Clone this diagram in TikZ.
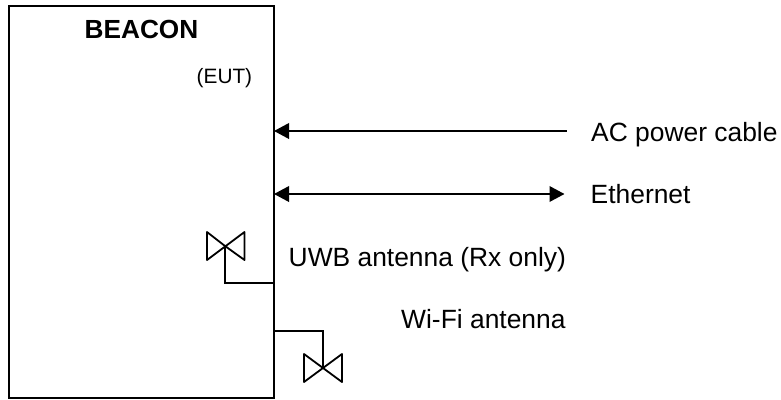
\documentclass[tikz,border=0pt]{standalone}
\usepackage{fontspec}
\setmainfont{Liberation Sans}
\usetikzlibrary{arrows.meta}
\tikzset{
  x=1pt,y=-1pt,
  devbox/.style={draw=black,line width=2pt,minimum width=265pt,minimum height=392pt,inner sep=0pt,outer sep=0pt},
  biglabel/.style={inner sep=0pt,anchor=base west,font=\fontsize{26.4}{30}\selectfont},
  smalllabel/.style={inner sep=0pt,anchor=base west,font=\fontsize{20.8}{24}\selectfont},
  cable/.style={line width=2pt,-{Triangle[length=15pt,width=15.5pt]}},
  bicable/.style={line width=2pt,{Triangle[length=15pt,width=15.5pt]}-{Triangle[length=15pt,width=15.5pt]}},
  feed/.style={line width=1.8pt},
  bowtie/.style={line width=1.8pt,line join=round}
}
\begin{document}
\begin{tikzpicture}
\useasboundingbox (0,0) rectangle (781,399);
\node[devbox] (box) at (141.5,202) {};
\node[biglabel,font=\fontsize{26.2}{30}\selectfont\bfseries] (beacon) at (84.5,38) {BEACON};
\node[smalllabel] (eut) at (196.5,83) {(EUT)};
\node[biglabel] (ac) at (591,141) {AC power cable};
\node[biglabel] (eth) at (590.5,203) {Ethernet};
\node[biglabel] (uwb) at (288.5,266) {UWB antenna (Rx only)};
\node[biglabel] (wifi) at (401,328.5) {Wi-Fi antenna};
\coordinate (acend) at (566.5,131);
\coordinate (ethend) at (564.5,194);
\draw[cable] (acend) -- (acend -| box.east);
\draw[bicable] (ethend -| box.east) -- (ethend);
\coordinate (ant1) at (225,246);
\coordinate (ant1corner) at (225,283);
\coordinate (ant2) at (323,368);
\coordinate (ant2corner) at (323,331);
\draw[feed] (ant1) -- (ant1corner) -- (ant1corner -| box.east);
\draw[feed] (ant2corner -| box.east) -- (ant2corner) -- (ant2);
\draw[bowtie] (ant1) -- (207,232) -- (207,260) -- (244.5,232) -- (244.5,260) -- cycle;
\draw[bowtie] (ant2) -- (304,354) -- (304,382) -- (342,354) -- (342,382) -- cycle;
\end{tikzpicture}
\end{document}
